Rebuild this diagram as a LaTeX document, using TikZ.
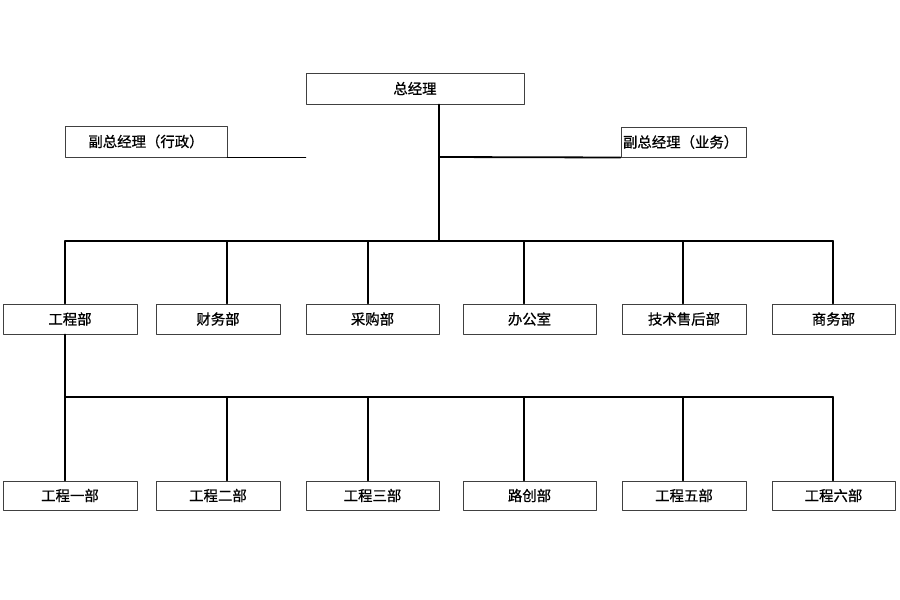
\documentclass[tikz,border=0pt]{standalone}
\usepackage{fontspec}
\newfontfamily\cjk[FakeBold=0.8]{Noto Sans CJK SC}
\begin{document}
\begin{tikzpicture}[x=1pt, y=-1pt, line join=round, line cap=round,
		font=\cjk\fontsize{14.4}{16}\selectfont,
		box/.style={draw=black!75, line width=1pt, minimum height=30pt, inner sep=0pt},
		link/.style={line width=1.8pt}]
		\useasboundingbox (0,0) rectangle (900,600);
		\node[box, minimum width=218pt, minimum height=31pt] (zjl) at (415,88.5) {总经理};
		\node[box, minimum width=162pt, minimum height=31pt] (fxz) at (146,141.5) {副总经理（行政）};
		\node[box, minimum width=125pt, text width=121pt, inner xsep=2pt, align=left] (fyw) at (683.5,142) {副总经理（业务）};
		\coordinate (hub) at (439,157);
		\coordinate (bus) at (439,241);
		\draw[link] (zjl.south -| hub) -- (bus);
		\draw[link] (fxz.south east) -- (fxz.south east -| zjl.west);
		\draw[link] (hub) -- (fyw.south west);
		% departments
		\foreach \n/\x/\bw/\tap/\txt in {d1/70/134/65/工程部, d2/218/124/227/财务部, d3/372.5/133/368/采购部,
			d4/529.5/133/524/办公室, d5/684/124/683/技术售后部, d6/833.5/123/833/商务部}
		{
			\node[box, minimum width=\bw pt] (\n) at (\x,319) {\txt};
			\coordinate (t\n) at (\tap,241);
			\draw[link] (t\n) -- (t\n |- \n.north);
		}
		\draw[link] (td1) -- (td6);
		% engineering sections
		\coordinate (e0) at (65,397);
		\draw[link] (d1.south -| e0) -- (e0);
		\foreach \n/\x/\bw/\tap/\txt in {e1/70/134/65/工程一部, e2/218/124/227/工程二部, e3/372.5/133/368/工程三部,
			e4/529.5/133/524/路创部, e5/684/124/683/工程五部, e6/833.5/123/833/工程六部}
		{
			\node[box, minimum width=\bw pt, minimum height=29pt] (\n) at (\x,495.5) {\txt};
			\coordinate (s\n) at (\tap,397);
			\draw[link] (s\n) -- (s\n |- \n.north);
		}
		\draw[link] (se1) -- (se6);
	\end{tikzpicture}
\end{document}
